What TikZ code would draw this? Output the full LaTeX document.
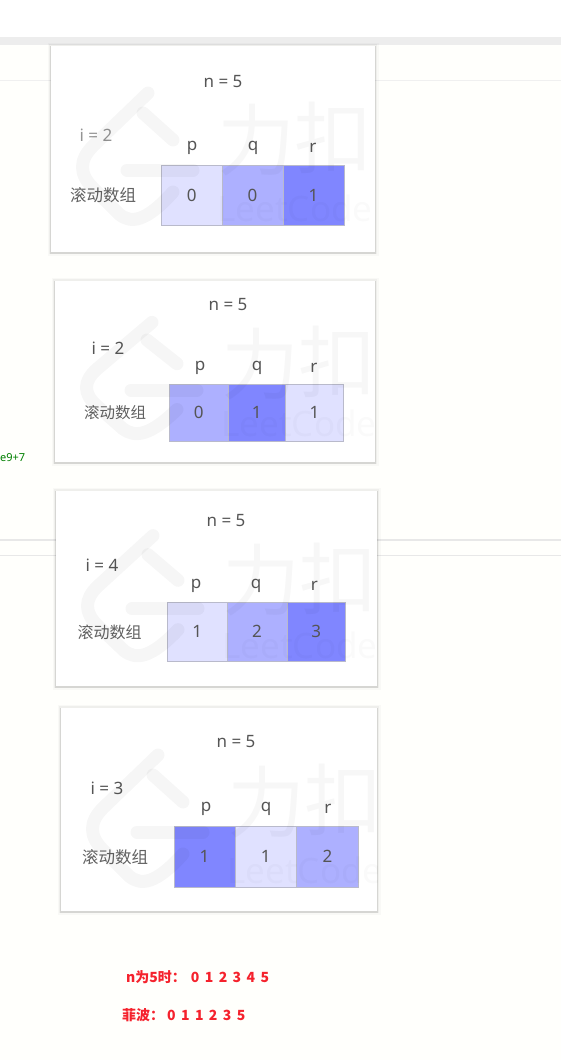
\documentclass[tikz,border=0pt]{standalone}
\usepackage{fontspec}
\usepackage{xcolor}
\setmainfont{Noto Sans}
\newfontfamily\cjk{Noto Sans CJK SC}
\definecolor{lightcell}{HTML}{E0E1FF}
\definecolor{midcell}{HTML}{ADB0FF}
\definecolor{darkcell}{HTML}{8086FF}
\definecolor{cellline}{HTML}{B9BACB}
\definecolor{inktext}{HTML}{555555}
\definecolor{redtext}{HTML}{F5222D}
\newcommand{\redspacing}{\spaceskip 5.4pt\relax}
\tikzset{
  panel/.style={fill=white, inner sep=0pt, outer sep=0pt, anchor=north west,
    preaction={draw=black, draw opacity=0.025, line width=7pt},
    preaction={draw=black, draw opacity=0.04, line width=4pt},
    preaction={draw=black, draw opacity=0.10, line width=2pt, transform canvas={yshift=-0.7pt}}},
  cell/.style={draw=cellline, line width=1pt, inner sep=0pt, outer sep=0pt, anchor=north west, text=inktext,
    font=\fontsize{17}{19}\selectfont},
  lbl/.style={text=inktext, inner sep=0pt, font=\fontsize{17}{19}\selectfont},
  cnlbl/.style={text=black!62, inner sep=0pt, font=\fontsize{16.5}{18}\selectfont\cjk},
  redlbl/.style={text=redtext, anchor=west, inner sep=0pt,
    font=\fontsize{14}{16}\selectfont\bfseries\cjk\redspacing},
  markline/.style={draw=black, opacity=0.035, line width=13pt, line cap=round, line join=round},
  marktext/.style={text=black, text opacity=0.03, inner sep=0pt}
}
% watermark of one panel: corner, size, y scale
\newcommand{\panelmark}[5]{
  \begin{scope}
    \clip (#1,#2) rectangle ++(#3,#4);
    \begin{scope}[shift={(#1,#2)}, yscale=#5]
      \draw[markline] (97,47) -- (42,100) .. controls (28,114) and (28,128) .. (42,142)
        -- (68,168) .. controls (80,178) and (95,176) .. (122,146);
      \draw[markline] (92,67) -- (122,94);
      \draw[markline] (76,124) -- (142,124);
      \node[marktext, font=\fontsize{78}{78}\selectfont\cjk] at (205,94) {力};
      \node[marktext, font=\fontsize{78}{78}\selectfont\cjk] at (282,92) {扣};
      \node[marktext, text opacity=0.02, font=\fontsize{35}{35}\selectfont] at (244,162) {LeetCode};
    \end{scope}
  \end{scope}
}
\begin{document}
\begin{tikzpicture}[x=1pt, y=-1pt]
    \useasboundingbox (0,0) rectangle (561,1060);
    \fill[white!99!yellow] (0,0) rectangle (561,1060);
    \fill[white] (0,0) rectangle (561,37);

    % Page behind the panels
    \fill[black!7] (0,37) rectangle (561,45);
    \draw[black!6, line width=1pt] (0,80.5) -- (561,80.5);
    \draw[black!9, line width=1.5pt] (0,540) -- (561,540);
    \draw[black!9, line width=1.5pt] (0,555.5) -- (561,555.5);
    \node[text=green!50!black, anchor=west, inner sep=0pt, font=\fontsize{11}{13}\selectfont] (modtext) at (0,458) {e9+7};

    % Panel A
    \node[panel, minimum width=324pt, minimum height=206pt] (panelA) at (51,46) {};
    \node[lbl] (nA) at (223,82) {n = 5};
    \node[lbl, text=black!42] (iA) at (96,135) {i = 2};
    \node[lbl] (pA) at (192,148) {p};
    \node[lbl] (qA) at (253,148) {q};
    \node[lbl] (rA) at (313,148) {r};
    \node[cnlbl] (nameA) at (103,195) {滚动数组};
    \node[cell, fill=lightcell, minimum width=60.5pt, minimum height=60.5pt] (cellA1) at (161.5,165) {0};
    \node[cell, fill=midcell, minimum width=61pt, minimum height=60.5pt] (cellA2) at (222,165) {0};
    \node[cell, fill=darkcell, minimum width=61pt, minimum height=60.5pt] (cellA3) at (283,165) {1};
    \panelmark{51}{46}{324}{206}{1}

    % Panel B
    \node[panel, minimum width=320pt, minimum height=181pt] (panelB) at (55,281) {};
    \node[lbl] (nB) at (228,305) {n = 5};
    \node[lbl] (iB) at (108,348) {i = 2};
    \node[lbl] (pB) at (200,368) {p};
    \node[lbl] (qB) at (257,368) {q};
    \node[lbl] (rB) at (314,368) {r};
    \node[cnlbl, font=\fontsize{15.5}{18}\selectfont\cjk] (nameB) at (115,413) {滚动数组};
    \node[cell, fill=midcell, minimum width=58.5pt, minimum height=57.5pt] (cellB1) at (169.5,384) {0};
    \node[cell, fill=darkcell, minimum width=57.5pt, minimum height=57.5pt] (cellB2) at (228,384) {1};
    \node[cell, fill=lightcell, minimum width=58pt, minimum height=57.5pt] (cellB3) at (285.5,384) {1};
    \panelmark{55}{281}{320}{181}{0.88}

    % Panel C
    \node[panel, minimum width=321pt, minimum height=195pt] (panelC) at (56,491) {};
    \node[lbl] (nC) at (226,521) {n = 5};
    \node[lbl] (iC) at (102,565) {i = 4};
    \node[lbl] (pC) at (196,586) {p};
    \node[lbl] (qC) at (256,586) {q};
    \node[lbl] (rC) at (314.5,586) {r};
    \node[cnlbl, font=\fontsize{16}{18}\selectfont\cjk] (nameC) at (109.5,632) {滚动数组};
    \node[cell, fill=lightcell, minimum width=59.5pt, minimum height=59pt] (cellC1) at (167.5,602) {1};
    \node[cell, fill=midcell, minimum width=60pt, minimum height=59pt] (cellC2) at (227,602) {2};
    \node[cell, fill=darkcell, minimum width=58.5pt, minimum height=59pt] (cellC3) at (287,602) {3};
    \panelmark{56}{491}{321}{195}{0.95}

    % Panel D
    \node[panel, minimum width=316pt, minimum height=203pt] (panelD) at (61,708) {};
    \node[lbl] (nD) at (236,742) {n = 5};
    \node[lbl] (iD) at (107,788) {i = 3};
    \node[lbl] (pD) at (206,809) {p};
    \node[lbl] (qD) at (266,809) {q};
    \node[lbl] (rD) at (328,809) {r};
    \node[cnlbl] (nameD) at (115,857) {滚动数组};
    \node[cell, fill=darkcell, minimum width=61pt, minimum height=61.5pt] (cellD1) at (174,826) {1};
    \node[cell, fill=lightcell, minimum width=61.5pt, minimum height=61.5pt] (cellD2) at (235,826) {1};
    \node[cell, fill=midcell, minimum width=62pt, minimum height=61.5pt] (cellD3) at (296.5,826) {2};
    \panelmark{61}{708}{316}{203}{1}

    % Red notes
    \node[redlbl] (noteN) at (126,977) {n为5时：\hspace{5pt}0 1 2 3 4 5};
    \node[redlbl] (noteFib) at (122,1015) {菲波：\hspace{3pt}0 1 1 2 3 5};
\end{tikzpicture}
\end{document}
